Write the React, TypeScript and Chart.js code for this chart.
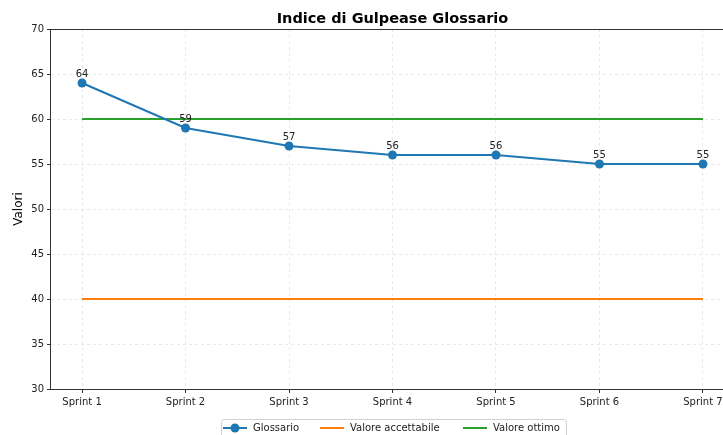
import React, { useEffect, useRef } from "react";
import { Chart, registerables } from "chart.js";

Chart.register(...registerables);

const categories = ["Sprint 1", "Sprint 2", "Sprint 3", "Sprint 4", "Sprint 5", "Sprint 6", "Sprint 7"];
const glossario = [64, 59, 57, 56, 56, 55, 55];
const valoreAccettabile = 40;
const valoreOttimo = 60;
const yTicks = [30, 35, 40, 45, 50, 55, 60, 65, 70];
const titleText = "Indice di Gulpease Glossario";
const yLabel = "Valori";
const legendLabels = ["Glossario", "Valore accettabile", "Valore ottimo"];

const BLUE = "#1f77b4";
const ORANGE = "#ff7f0e";
const GREEN = "#2ca02c";
const FONT = "'DejaVu Sans', sans-serif";

export default function App() {
  const ref = useRef<HTMLCanvasElement | null>(null);

  useEffect(() => {
    const canvas = ref.current;
    if (!canvas) return;

    const decor = {
      id: "decor",
      afterDatasetsDraw(chart: any) {
        const ctx = chart.ctx;
        const meta = chart.getDatasetMeta(0);
        ctx.save();
        ctx.font = `10px ${FONT}`;
        ctx.fillStyle = "#222";
        ctx.textAlign = "center";
        ctx.textBaseline = "bottom";
        meta.data.forEach((pt: any, i: number) => {
          ctx.fillText(String(glossario[i]), pt.x, pt.y - 4);
        });
        ctx.restore();
      },
      afterDraw(chart: any) {
        const ctx = chart.ctx;
        const a = chart.chartArea;
        ctx.save();
        // spines
        ctx.strokeStyle = "#333";
        ctx.lineWidth = 1;
        ctx.strokeRect(a.left - 0.5, a.top + 0.5, a.right - a.left + 1, a.bottom - a.top);
        // title
        const cx = (a.left + a.right) / 2;
        ctx.fillStyle = "#000";
        ctx.font = `bold 14.5px ${FONT}`;
        ctx.textAlign = "center";
        ctx.textBaseline = "middle";
        ctx.fillText(titleText, cx, 19);
        // y label
        ctx.save();
        ctx.translate(19, (a.top + a.bottom) / 2);
        ctx.rotate(-Math.PI / 2);
        ctx.font = `12px ${FONT}`;
        ctx.fillText(yLabel, 0, 0);
        ctx.restore();
        // legend
        const bx = 221, by = 419, bw = 345, bh = 24;
        ctx.fillStyle = "rgba(255,255,255,0.8)";
        ctx.strokeStyle = "#d0d0d0";
        ctx.lineWidth = 1;
        ctx.beginPath();
        const r = 3;
        ctx.moveTo(bx + r + 0.5, by + 0.5);
        ctx.lineTo(bx + bw - r + 0.5, by + 0.5);
        ctx.arcTo(bx + bw + 0.5, by + 0.5, bx + bw + 0.5, by + r + 0.5, r);
        ctx.lineTo(bx + bw + 0.5, by + bh + 0.5);
        ctx.lineTo(bx + 0.5, by + bh + 0.5);
        ctx.lineTo(bx + 0.5, by + r + 0.5);
        ctx.arcTo(bx + 0.5, by + 0.5, bx + r + 0.5, by + 0.5, r);
        ctx.closePath();
        ctx.fill();
        ctx.stroke();
        const ly = 428;
        const items = [
          { x0: 223, x1: 247, tx: 253, color: BLUE, marker: true },
          { x0: 320, x1: 344, tx: 350, color: ORANGE, marker: false },
          { x0: 463, x1: 487, tx: 493, color: GREEN, marker: false },
        ];
        items.forEach((it, i) => {
          ctx.strokeStyle = it.color;
          ctx.lineWidth = 2;
          ctx.beginPath();
          ctx.moveTo(it.x0, ly);
          ctx.lineTo(it.x1, ly);
          ctx.stroke();
          if (it.marker) {
            ctx.fillStyle = it.color;
            ctx.beginPath();
            ctx.arc((it.x0 + it.x1) / 2, ly, 4.5, 0, Math.PI * 2);
            ctx.fill();
          }
          ctx.fillStyle = "#222";
          ctx.font = `10px ${FONT}`;
          ctx.textAlign = "left";
          ctx.textBaseline = "middle";
          ctx.fillText(legendLabels[i], it.tx, ly);
        });
        ctx.restore();
      },
    };

    const chart = new Chart(canvas, {
      type: "line",
      data: {
        datasets: [
          {
            label: legendLabels[0],
            data: glossario.map((v, i) => ({ x: i, y: v })),
            borderColor: BLUE,
            backgroundColor: BLUE,
            borderWidth: 2,
            pointRadius: 4.5,
            pointHoverRadius: 4.5,
            pointBorderWidth: 0,
            pointBackgroundColor: BLUE,
            tension: 0,
          },
          {
            label: legendLabels[1],
            data: [
              { x: 0, y: valoreAccettabile },
              { x: categories.length - 1, y: valoreAccettabile },
            ],
            borderColor: ORANGE,
            borderWidth: 2,
            pointRadius: 0,
          },
          {
            label: legendLabels[2],
            data: [
              { x: 0, y: valoreOttimo },
              { x: categories.length - 1, y: valoreOttimo },
            ],
            borderColor: GREEN,
            borderWidth: 2,
            pointRadius: 0,
          },
        ],
      },
      options: {
        responsive: false,
        animation: false,
        devicePixelRatio: 1,
        layout: { padding: { left: 0, right: 26, top: 29, bottom: 31 } },
        plugins: { legend: { display: false }, title: { display: false }, tooltip: { enabled: false } },
        scales: {
          x: {
            type: "linear",
            min: -0.3,
            max: categories.length - 1 + 0.3,
            afterBuildTicks: (scale: any) => {
              scale.ticks = categories.map((_, i) => ({ value: i }));
            },
            afterFit: (scale: any) => {
              scale.height = 30;
            },
            ticks: {
              autoSkip: false,
              maxRotation: 0,
              padding: 3,
              color: "#222",
              font: { family: FONT, size: 10 },
              callback: (v: any) => categories[Math.round(Number(v))] ?? "",
            },
            grid: {
              color: "rgba(176,176,176,0.35)",
              lineWidth: 0.8,
              drawTicks: true,
              tickLength: 4,
              tickColor: "#333",
              tickWidth: 1,
              tickBorderDash: [],
            },
            border: { display: false, dash: [3, 3] },
          },
          y: {
            type: "linear",
            min: 30,
            max: 70,
            afterBuildTicks: (scale: any) => {
              scale.ticks = yTicks.map((v) => ({ value: v }));
            },
            afterFit: (scale: any) => {
              scale.width = 51;
            },
            ticks: {
              padding: 3,
              color: "#222",
              font: { family: FONT, size: 10 },
            },
            grid: {
              color: "rgba(176,176,176,0.35)",
              lineWidth: 0.8,
              drawTicks: true,
              tickLength: 4,
              tickColor: "#333",
              tickWidth: 1,
              tickBorderDash: [],
            },
            border: { display: false, dash: [3, 3] },
          },
        },
      },
      plugins: [decor],
    } as any);

    return () => chart.destroy();
  }, []);

  return (
    <div style={{ position: "absolute", left: 0, top: 0, width: 723, height: 435, overflow: "hidden", background: "#fff" }}>
      <canvas ref={ref} width={760} height={450} style={{ display: "block" }} />
    </div>
  );
}
